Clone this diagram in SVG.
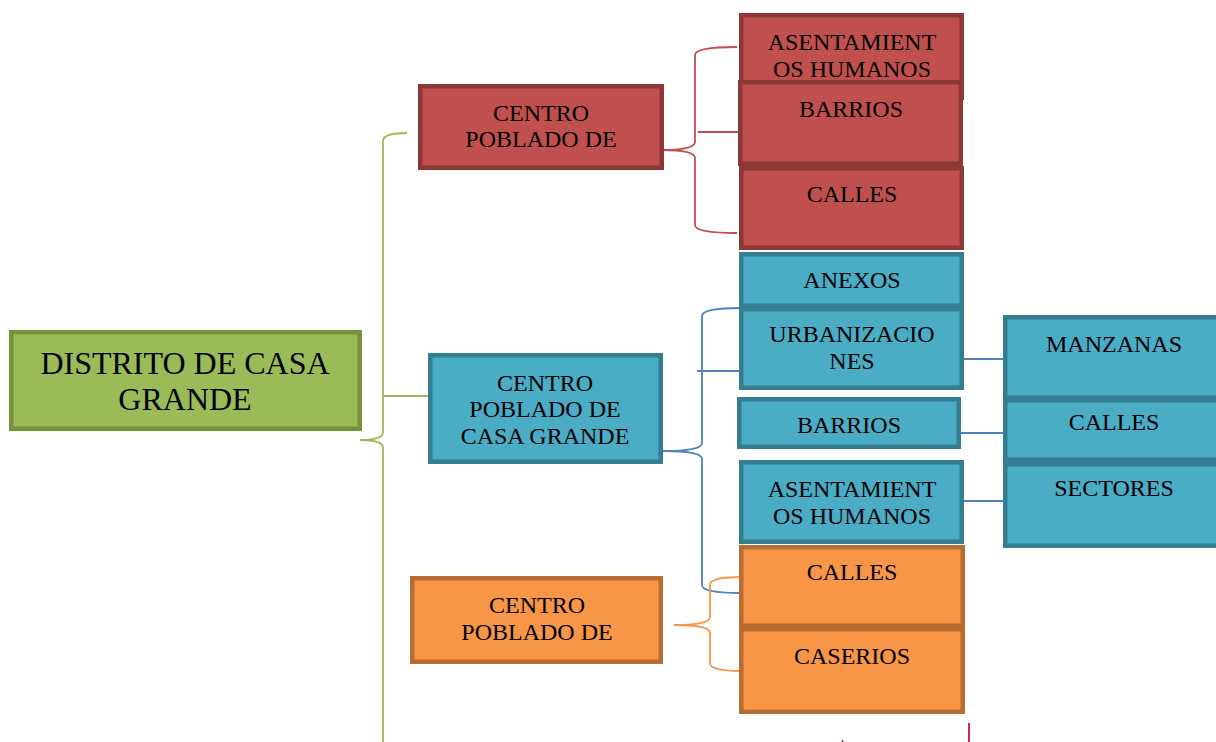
<svg xmlns="http://www.w3.org/2000/svg" width="1216" height="742" viewBox="0 0 1216 742">
<style>
.t{font-family:"Liberation Serif","Times New Roman",serif;font-size:24px;fill:#000;text-anchor:middle}
.big{font-size:32px}
.red{fill:#C0504D;stroke:#8C3836;stroke-width:4.5}
.blue{fill:#4BACC6;stroke:#357D91;stroke-width:4.5}
.orange{fill:#F79646;stroke:#B66D31;stroke-width:4.5}
.green{fill:#9BBB59;stroke:#76923C;stroke-width:4.5}
.c{fill:none;stroke-width:1.8}
.cg{stroke:#9BBB59}
.cr{stroke:#C0504D}
.cb{stroke:#4F81BD}
.co{stroke:#F79646}
</style>
<rect width="1216" height="742" fill="#fff"/>
<g id="connectors">
  <path class="c cg" d="M407,133 Q383,133 383,141 L383,432 Q383,440 360,440 Q383,440 383,448 L383,800"/>
  <path class="c cg" d="M383,396 L431,396"/>
  <path class="c cr" d="M737,47 Q695,47 695,55 L695,142 Q695,150 661,150 Q695,150 695,158 L695,225 Q695,233 737,233"/>
  <path class="c cr" d="M698,132 L741,132"/>
  <path class="c cb" d="M741,308 Q702,308 702,316 L702,443 Q702,451 663,451 Q702,451 702,459 L702,585 Q702,593 741,593"/>
  <path class="c cb" d="M697,371 L741,371"/>
  <path class="c cb" d="M961,359 L1005,359"/>
  <path class="c cb" d="M959,433 L1005,433"/>
  <path class="c cb" d="M962,501 L1005,501"/>
  <path class="c co" d="M741,577 Q710,577 710,585 L710,617 Q710,625 674,625 Q710,625 710,633 L710,663 Q710,671 741,671"/>
  <path d="M969,723 L969,742" stroke="#C0143C" stroke-width="1.8" fill="none"/>
  <path d="M842,740 L843,742" stroke="#C0143C" stroke-width="1.5" fill="none"/>
</g>
<g id="n-distrito">
  <rect class="green" x="11.25" y="332.25" width="348.5" height="96.5"/>
  <text class="t big" x="185" y="374">DISTRITO DE CASA</text>
  <text class="t big" x="185" y="410">GRANDE</text>
</g>
<g id="n-cp-red">
  <rect class="red" x="420.25" y="86.25" width="241.5" height="81.5"/>
  <text class="t" x="541" y="121">CENTRO</text>
  <text class="t" x="541" y="147">POBLADO DE</text>
</g>
<g id="n-red-asent">
  <rect class="red" x="741.25" y="15.25" width="220.5" height="82.5"/>
  <text class="t" x="852" y="50">ASENTAMIENT</text>
  <text class="t" x="852" y="77">OS HUMANOS</text>
</g>
<g id="n-red-barrios">
  <rect class="red" x="740.25" y="82.25" width="220.5" height="81.5"/>
  <text class="t" x="851" y="117">BARRIOS</text>
</g>
<g id="n-red-calles">
  <rect class="red" x="741.25" y="168.25" width="220.5" height="79.5"/>
  <text class="t" x="852" y="202">CALLES</text>
</g>
<g id="n-cp-blue">
  <rect class="blue" x="430.25" y="355.25" width="230.5" height="106.5"/>
  <text class="t" x="545" y="391">CENTRO</text>
  <text class="t" x="545" y="417">POBLADO DE</text>
  <text class="t" x="545" y="444">CASA GRANDE</text>
</g>
<g id="n-anexos">
  <rect class="blue" x="741.25" y="254.25" width="220.5" height="51.5"/>
  <text class="t" x="852" y="288">ANEXOS</text>
</g>
<g id="n-urban">
  <rect class="blue" x="741.25" y="309.25" width="220.5" height="78.5"/>
  <text class="t" x="852" y="342">URBANIZACIO</text>
  <text class="t" x="852" y="369">NES</text>
</g>
<g id="n-blue-barrios">
  <rect class="blue" x="739.25" y="399.25" width="219.5" height="47.5"/>
  <text class="t" x="849" y="433">BARRIOS</text>
</g>
<g id="n-blue-asent">
  <rect class="blue" x="741.25" y="462.25" width="220.5" height="79.5"/>
  <text class="t" x="852" y="497">ASENTAMIENT</text>
  <text class="t" x="852" y="524">OS HUMANOS</text>
</g>
<g id="n-manzanas">
  <rect class="blue" x="1005.25" y="317.25" width="224" height="80.5"/>
  <text class="t" x="1114" y="352">MANZANAS</text>
</g>
<g id="n-calles-b">
  <rect class="blue" x="1005.25" y="400.25" width="224" height="59.5"/>
  <text class="t" x="1114" y="430">CALLES</text>
</g>
<g id="n-sectores">
  <rect class="blue" x="1005.25" y="464.25" width="224" height="81.5"/>
  <text class="t" x="1114" y="496">SECTORES</text>
</g>
<g id="n-cp-orange">
  <rect class="orange" x="412.25" y="578.25" width="248.5" height="83.5"/>
  <text class="t" x="537" y="613">CENTRO</text>
  <text class="t" x="537" y="640">POBLADO DE</text>
</g>
<g id="n-orange-calles">
  <rect class="orange" x="741.25" y="547.25" width="221.5" height="78.5"/>
  <text class="t" x="852" y="580">CALLES</text>
</g>
<g id="n-caserios">
  <rect class="orange" x="741.25" y="629.25" width="221.5" height="82.5"/>
  <text class="t" x="852" y="664">CASERIOS</text>
</g>
</svg>
